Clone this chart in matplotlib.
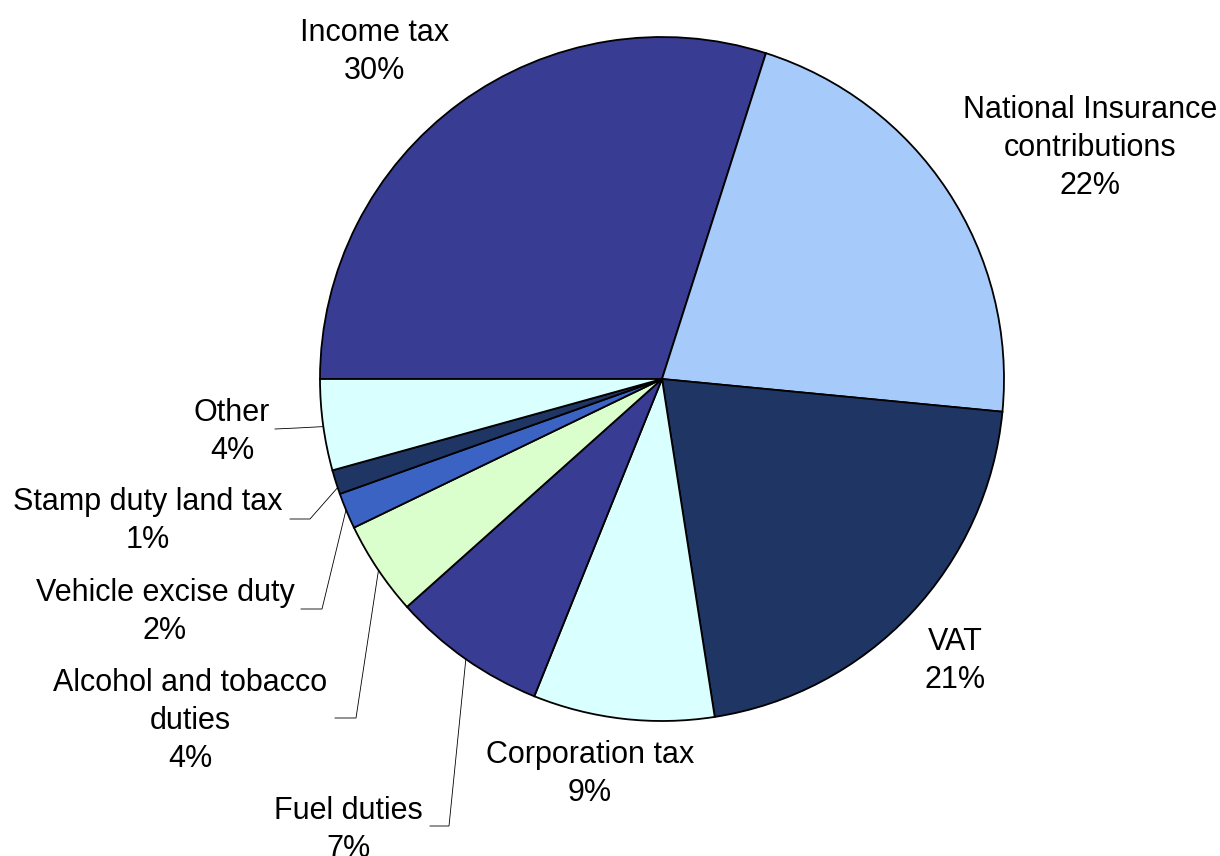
import numpy as np
import matplotlib.pyplot as plt

plt.rcParams['font.family'] = ['Liberation Sans', 'DejaVu Sans']

labels = ['Income tax', 'National Insurance\ncontributions', 'VAT', 'Corporation tax',
          'Fuel duties', 'Alcohol and tobacco\nduties', 'Vehicle excise duty',
          'Stamp duty land tax', 'Other']
shares = [29.9, 21.6, 21.0, 8.55, 7.3, 4.45, 1.7, 1.15, 4.3]
colors = ['#383c93', '#a6cafa', '#1f3563', '#d9ffff', '#383c93',
          '#dbffcc', '#3b63c4', '#1f3563', '#d9ffff']

# label text centres (pixels, y from top)
label_pos = [(375, 52), (1090, 148), (955, 661), (590, 774), (348, 830),
             (190, 721), (165, 612), (148, 521), (232, 432)]
# leader lines: (text end, elbow) for the small slices
leaders = {4: ((430, 826), (449, 826)),
           5: ((335, 718), (356, 718)),
           6: ((301, 609), (322, 609)),
           7: ((290, 519), (310, 519)),
           8: ((275, 429), (297, 428))}
leader_angle = {4: -125.0, 5: -146.0, 6: -157.5, 7: -161.5, 8: -172.0}

W, H = 1220, 856
fig = plt.figure(figsize=(W / 100, H / 100), dpi=100)
ax = fig.add_axes([0, 0, 1, 1])

cx, cy, r = 662, H - 379, 342
ax.pie(shares, colors=colors, startangle=180, counterclock=False,
       center=(cx, cy), radius=r, frame=True,
       wedgeprops=dict(edgecolor='black', linewidth=1.3))
ax.set_xlim(0, W)
ax.set_ylim(0, H)
ax.set_aspect('equal')
ax.axis('off')

for i, (lab, val) in enumerate(zip(labels, shares)):
    x, y = label_pos[i]
    ax.text(x, H - y, f'{lab}\n{round(val):d}%', ha='center', va='center',
            fontsize=22, linespacing=1.33)

for i, (p0, p1) in leaders.items():
    a = np.radians(leader_angle[i])
    ex, ey = cx + r * np.cos(a), cy + r * np.sin(a)
    ax.plot([p0[0], p1[0], ex], [H - p0[1], H - p1[1], ey],
            color='black', linewidth=0.6)

fig.savefig('out.png', dpi=100)
